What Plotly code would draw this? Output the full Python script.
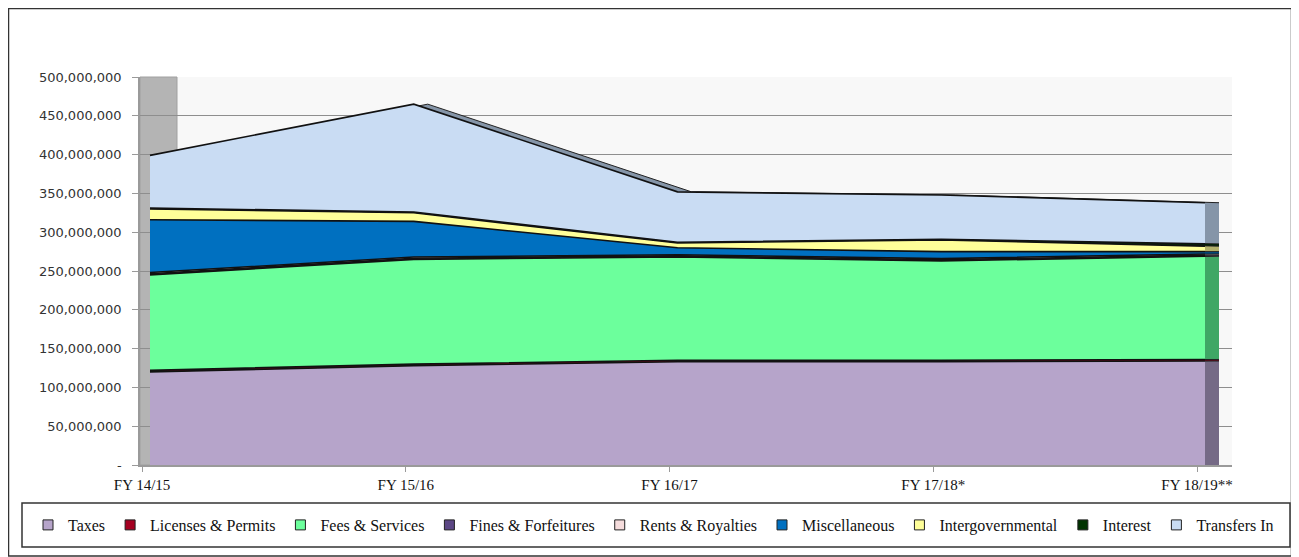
import plotly.graph_objects as go

# ---- data (millions of dollars) ----
years = ["FY 14/15", "FY 15/16", "FY 16/17", "FY 17/18*", "FY 18/19**"]
taxes = [120, 128, 133, 133, 134]
licenses = [2, 2, 2, 2, 2]
fees = [123, 135, 133, 128, 133]
fines = [1.5, 1.5, 1.5, 1.5, 1.5]
rents = [1.5, 1.5, 1.5, 1.5, 1.5]
misc = [68, 46, 9, 9, 3]
intergov = [14, 11, 6, 15, 7]
interest = [1, 1, 1, 1, 3]
transfers = [68, 139, 65, 57, 53]
y_ticks = [0, 50, 100, 150, 200, 250, 300, 350, 400, 450, 500]

series = [
    ("Taxes", taxes, "#B6A4CA", "#756A86"),
    ("Licenses & Permits", licenses, "#A50021", "#6E0016"),
    ("Fees & Services", fees, "#6CFF9C", "#3FA765"),
    ("Fines & Forfeitures", fines, "#5C4785", "#3A2D55"),
    ("Rents & Royalties", rents, "#F5DCDC", "#A89696"),
    ("Miscellaneous", misc, "#0070C0", "#004C82"),
    ("Intergovernmental", intergov, "#FFFF99", "#B3B06A"),
    ("Interest", interest, "#003300", "#002200"),
    ("Transfers In", transfers, "#C9DCF3", "#8595A8"),
]

# ---- pixel geometry helpers (reference screenshot pixels) ----
OFF = 8  # page body margin
W, H = 1299 - OFF, 557 - OFF
PL, PR, PT, PB = 140, 1232, 77, 465   # plot area in screenshot pixels
X0PX, STEP = 150, 263.75              # data x=0 at 150px


def px_to_x(px):
    return (px - X0PX) / STEP


def paper_x(px):
    return (px - PL) / (PR - PL)


def paper_y(py):
    return (PB - py) / (PB - PT)


fig = go.Figure()
xs = list(range(len(years)))
depth = px_to_x(1219) - px_to_x(1205)

# back (depth) copy of the stack: shows as side face and top faces
for name, vals, col, side in series:
    fig.add_trace(go.Scatter(
        x=[i + depth for i in xs], y=[v * 1e6 for v in vals], stackgroup="back",
        mode="lines", line=dict(color="#222222", width=1), fillcolor=side,
        showlegend=False, hoverinfo="skip"))

# front faces
for name, vals, col, side in series:
    fig.add_trace(go.Scatter(
        x=xs, y=[v * 1e6 for v in vals], stackgroup="front", mode="lines",
        line=dict(color="#111111", width=1.6), fillcolor=col,
        name=name, showlegend=False, hoverinfo="skip"))

# legend entries as squares (split over two legend blocks in one row)
for k, (name, vals, col, side) in enumerate(series):
    fig.add_trace(go.Scatter(
        x=[None], y=[None], mode="markers", name=name,
        legend="legend" if k < 5 else "legend2",
        marker=dict(symbol="square", size=10, color=col,
                    line=dict(color="#222222", width=1))))

shapes = [
    # back wall
    dict(type="rect", xref="paper", yref="paper", x0=paper_x(177), x1=1, y0=0, y1=1,
         fillcolor="#F8F8F8", line=dict(width=0), layer="below"),
    # left side wall
    dict(type="rect", xref="paper", yref="paper", x0=0, x1=paper_x(177), y0=0, y1=1,
         fillcolor="#B4B4B4", line=dict(color="#A0A0A0", width=1), layer="between"),
    # chart border
    dict(type="rect", xref="paper", yref="paper", x0=paper_x(8.5), x1=paper_x(1291.5),
         y0=paper_y(556), y1=paper_y(8.5), line=dict(color="#333333", width=1.5),
         fillcolor="rgba(0,0,0,0)"),
    # legend box
    dict(type="rect", xref="paper", yref="paper", x0=paper_x(22), x1=paper_x(1290),
         y0=paper_y(547), y1=paper_y(503), line=dict(color="#333333", width=1.5),
         fillcolor="rgba(0,0,0,0)"),
]

legend_common = dict(orientation="h", xanchor="left", yanchor="middle",
                     itemwidth=30, traceorder="normal",
                     font=dict(family="Liberation Serif", size=16, color="#111111"),
                     bgcolor="rgba(0,0,0,0)")

fig.update_layout(
    width=W, height=H,
    margin=dict(l=PL - OFF, r=W - (PR - OFF), t=PT - OFF, b=H - (PB - OFF),
                autoexpand=False),
    paper_bgcolor="white", plot_bgcolor="white",
    shapes=shapes,
    showlegend=True,
    legend=dict(x=paper_x(28), y=paper_y(525), **legend_common),
    legend2=dict(x=paper_x(762), y=paper_y(525), **legend_common),
    xaxis=dict(range=[px_to_x(PL), px_to_x(PR)], tickmode="array",
               tickvals=[i - 0.03 for i in xs], ticktext=years,
               showgrid=False, zeroline=False, showline=True,
               linecolor="#9A9A9A", linewidth=1.5,
               ticks="outside", ticklen=5, tickcolor="#9A9A9A",
               tickfont=dict(family="Liberation Serif", size=15, color="#111111")),
    yaxis=dict(range=[0, 500e6], tickmode="array",
               tickvals=[v * 1e6 for v in y_ticks],
               ticktext=["-" if v == 0 else f"{v * 1000000:,}" for v in y_ticks],
               showgrid=True, gridcolor="#8E8E8E", gridwidth=1.3,
               zeroline=False, showline=True, linecolor="#9A9A9A", linewidth=1.5,
               ticks="outside", ticklen=6, tickcolor="#9A9A9A",
               ticklabelstandoff=8,
               tickfont=dict(family="DejaVu Sans", size=13, color="#333333")),
)

fig.write_html("out.html")
